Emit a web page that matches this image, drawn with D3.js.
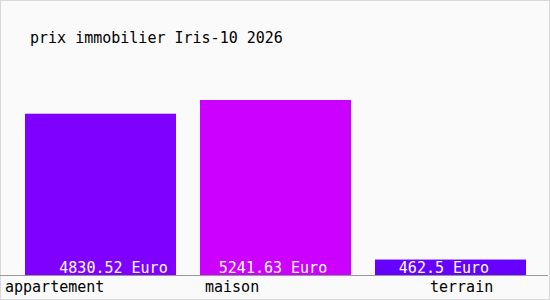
<!DOCTYPE html>
<html>
<head>
<meta charset="utf-8">
<script src="https://cdn.jsdelivr.net/npm/d3@7"></script>
<style>
  body { margin: 0; background: #fff; }
  text { font-family: "DejaVu Sans Mono", monospace; }
</style>
</head>
<body>
<div id="chart"></div>
<script>
const title = "prix immobilier Iris-10 2026";
const categories = ["appartement", "maison", "terrain"];
const prices = [4830.52, 5241.63, 462.5];
const colors = ["#8000ff", "#cc00ff", "#6600ff"];

const width = 550, height = 300;

const svg = d3.select("#chart")
    .append("svg")
    .attr("width", width)
    .attr("height", height);

// frame
svg.append("rect")
    .attr("x", 0.5).attr("y", 0.5)
    .attr("width", width - 1).attr("height", height - 1)
    .attr("fill", "#fafafa")
    .attr("stroke", "#d8d8d8");

const p = 24 / 175;
const x = d3.scaleBand()
    .domain(categories)
    .range([13, 538])
    .paddingInner(p)
    .paddingOuter(p / 2);

const y = d3.scaleLinear()
    .domain([0, d3.max(prices)])
    .range([275, 100]);

svg.append("text")
    .attr("x", 30).attr("y", 43)
    .attr("font-size", 15)
    .attr("fill", "#000")
    .text(title);

svg.selectAll("rect.bar")
    .data(prices)
    .enter().append("rect")
    .attr("class", "bar")
    .attr("x", (d, i) => x(categories[i]))
    .attr("y", d => y(d))
    .attr("width", x.bandwidth())
    .attr("height", d => y(0) - y(d))
    .attr("fill", (d, i) => colors[i]);

// baseline
svg.append("line")
    .attr("x1", 0).attr("x2", 548)
    .attr("y1", 275.5).attr("y2", 275.5)
    .attr("stroke", "#999");

// value labels, slightly shifted like the original
const valueDx = [13, -2.5, -6.5];
svg.selectAll("text.value")
    .data(prices)
    .enter().append("text")
    .attr("class", "value")
    .attr("x", (d, i) => x(categories[i]) + x.bandwidth() / 2 + valueDx[i])
    .attr("y", 273)
    .attr("text-anchor", "middle")
    .attr("font-size", 15)
    .attr("fill", "#fff")
    .text(d => d + " Euro");

// category labels
const labelDx = [-20, 5, 55];
svg.selectAll("text.cat")
    .data(categories)
    .enter().append("text")
    .attr("class", "cat")
    .attr("x", (d, i) => x(d) + labelDx[i])
    .attr("y", 292)
    .attr("font-size", 15)
    .attr("fill", "#000")
    .text(d => d);
</script>
</body>
</html>
